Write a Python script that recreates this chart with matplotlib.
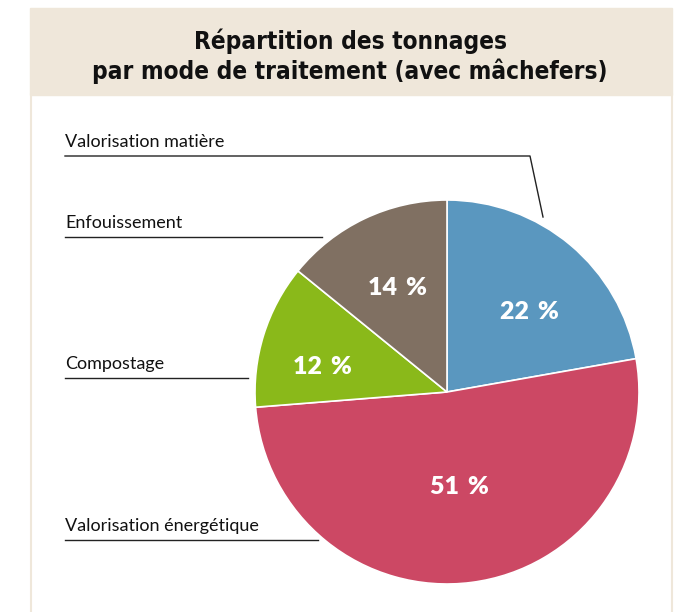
import numpy as np
import matplotlib
matplotlib.use("Agg")
import matplotlib.pyplot as plt
from matplotlib.patches import Rectangle

categories = ["Valorisation matière", "Valorisation énergétique", "Compostage", "Enfouissement"]
values = [22, 51, 12, 14]
colors = ["#5a97bf", "#cc4864", "#8ab91a", "#807062"]

W, H = 677, 612
label_font = "Lato"

fig = plt.figure(figsize=(W / 100, H / 100), dpi=100)
ax = fig.add_axes([0, 0, 1, 1])

beige = "#efe7da"
# header band and frame
ax.add_patch(Rectangle((30, H - 95), 642, 87, color=beige, zorder=0))
ax.plot([30.5, 30.5], [0, H - 95], color=beige, lw=1.5, zorder=0)
ax.plot([671.5, 671.5], [0, H - 95], color=beige, lw=1.5, zorder=0)

ax.text(350, H - 56, "Répartition des tonnages\npar mode de traitement (avec mâchefers)",
        ha="center", va="center", fontsize=17.5, fontweight="bold",
        family="DejaVu Sans", stretch="condensed", linespacing=1.2, color="#111111")

cx, cy, r = 447, H - 392, 192
wedges, _ = ax.pie(values, colors=colors, startangle=90, counterclock=False,
                   center=(cx, cy), radius=r, frame=True,
                   wedgeprops=dict(edgecolor="white", linewidth=1.2))
ax.set_xlim(0, W)
ax.set_ylim(0, H)
ax.set_aspect("equal")
ax.axis("off")

dist = [0.6, 0.5, 0.66, 0.6]
shift = [-6, 0, 6, 0]
for w, v, d, s in zip(wedges, values, dist, shift):
    th = np.deg2rad((w.theta1 + w.theta2) / 2 + s)
    ax.text(cx + d * r * np.cos(th), cy + d * r * np.sin(th), f"{v}\u2009 %",
            ha="center", va="center", color="white", fontsize=18,
            fontweight="heavy", family=label_font)

# category labels with leader lines
lab = dict(fontsize=13, family=label_font, color="#111111", ha="left", va="baseline")
ax.text(65, H - 147, categories[0], **lab)
ax.plot([65, 530, 543], [H - 156, H - 156, H - 217], color="#222222", lw=1)
ax.text(65, H - 228, categories[3], **lab)
ax.plot([65, 322], [H - 237, H - 237], color="#222222", lw=1)
ax.text(65, H - 369, categories[2], **lab)
ax.plot([65, 248], [H - 378, H - 378], color="#222222", lw=1)
ax.text(65, H - 531, categories[1], **lab)
ax.plot([65, 318], [H - 540, H - 540], color="#222222", lw=1)

fig.savefig("out.png", dpi=100, facecolor="white")
